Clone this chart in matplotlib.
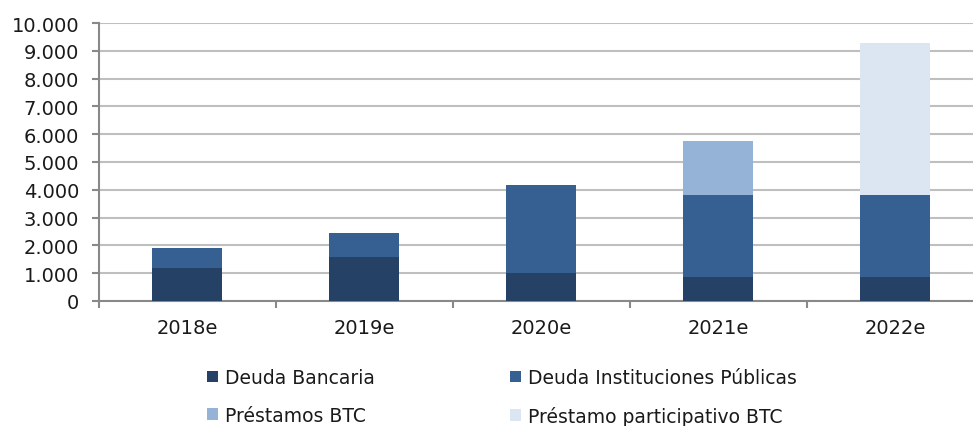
import matplotlib
matplotlib.use("Agg")
import matplotlib.pyplot as plt
from matplotlib.ticker import FuncFormatter, MultipleLocator, FixedLocator
import numpy as np

categories = ["2018e", "2019e", "2020e", "2021e", "2022e"]
deuda_bancaria = [1200, 1600, 1000, 850, 850]
deuda_instituciones = [700, 830, 3180, 2970, 2970]
prestamos_btc = [0, 0, 0, 1940, 0]
prestamo_participativo = [0, 0, 0, 0, 5460]

series = [
    ("Deuda Bancaria", deuda_bancaria, "#264166"),
    ("Deuda Instituciones Públicas", deuda_instituciones, "#366092"),
    ("Préstamos BTC", prestamos_btc, "#95b3d7"),
    ("Préstamo participativo BTC", prestamo_participativo, "#dce6f2"),
]

W, H = 973, 427
fig = plt.figure(figsize=(W / 100, H / 100), dpi=100)
ax = fig.add_axes([98.5 / W, (H - 302) / H, 885 / W, 278 / H])

x = np.arange(len(categories))
bottom = np.zeros(len(categories))
handles = {}
for name, vals, col in series:
    v = np.array(vals, dtype=float)
    b = ax.bar(x, v, width=0.4, bottom=bottom, color=col, label=name, zorder=3)
    handles[name] = b
    bottom += v

ax.set_xlim(-0.5, 4.5)
ax.set_ylim(0, 10000)
ax.yaxis.set_major_locator(MultipleLocator(1000))
ax.yaxis.set_major_formatter(FuncFormatter(lambda v, p: f"{int(v):,}".replace(",", ".")))
ax.grid(axis="y", color="#bfbfbf", linewidth=1.5, zorder=0)
ax.set_axisbelow(True)

ax.set_xticks(x)
ax.set_xticklabels(categories)
ax.xaxis.set_minor_locator(FixedLocator(np.arange(-0.5, 5.0, 1.0)))
ax.tick_params(axis="x", which="major", length=0, pad=12, labelsize=14)
ax.tick_params(axis="x", which="minor", length=5, width=1.5, color="#898989", direction="out")
ax.tick_params(axis="y", length=5, width=1.5, color="#898989", direction="out", pad=9, labelsize=14)
for lab in ax.get_xticklabels() + ax.get_yticklabels():
    lab.set_fontfamily("DejaVu Sans")
    lab.set_color("#1a1a1a")

for s in ["top", "right"]:
    ax.spines[s].set_visible(False)
for s in ["left", "bottom"]:
    ax.spines[s].set_color("#898989")
    ax.spines[s].set_linewidth(1.5)

order = ["Deuda Bancaria", "Préstamos BTC", "Deuda Instituciones Públicas", "Préstamo participativo BTC"]
leg = fig.legend([handles[n] for n in order], order, ncol=2, loc="upper left",
                 bbox_to_anchor=(207 / W, 1 - 369 / H), frameon=False,
                 borderpad=0, borderaxespad=0, handlelength=0.58, handleheight=0.58,
                 handletextpad=0.38, columnspacing=7.2, labelspacing=1.0,
                 prop={"family": "DejaVu Sans", "size": 13.5})
for t in leg.get_texts():
    t.set_color("#1a1a1a")

fig.savefig("out.png", dpi=100)
